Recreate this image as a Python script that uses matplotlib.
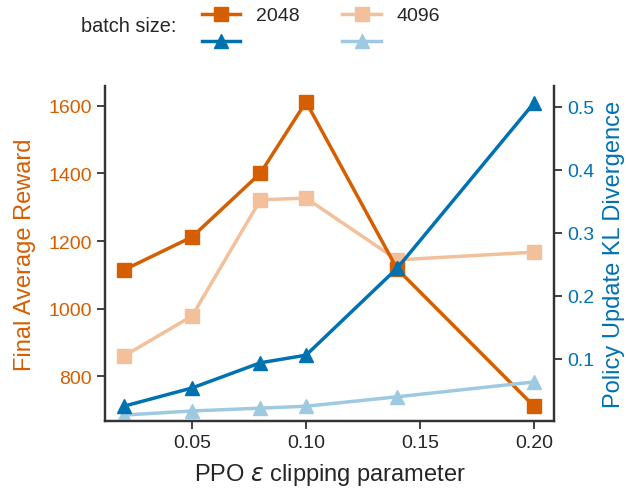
import matplotlib.pyplot as plt
from matplotlib.lines import Line2D

# clipping parameter values
epsilon = [0.02, 0.05, 0.08, 0.10, 0.14, 0.20]

# final average reward per batch size
reward_2048 = [1114, 1212, 1401, 1612, 1117, 711]
reward_4096 = [859, 978, 1322, 1327, 1144, 1167]

# policy update KL divergence per batch size
kl_2048 = [0.025, 0.054, 0.094, 0.106, 0.244, 0.506]
kl_4096 = [0.011, 0.0175, 0.022, 0.025, 0.040, 0.0635]

batch_labels = ["2048", "4096"]

orange = "#d55e00"
light_orange = "#f2c09b"
blue = "#0072b2"
light_blue = "#9ecae1"
spine_col = "#333333"

plt.rcParams["font.family"] = ["Liberation Sans", "DejaVu Sans"]
plt.rcParams["mathtext.fontset"] = "dejavusans"

fig = plt.figure(figsize=(6.26, 4.89), dpi=100)
ax = fig.add_axes([105 / 626, (489 - 422) / 489, (554 - 105) / 626, (422 - 87) / 489])
ax2 = ax.twinx()

ax.plot(epsilon, reward_2048, color=orange, lw=2.5, marker="s", ms=10, zorder=3)
ax.plot(epsilon, reward_4096, color=light_orange, lw=2.5, marker="s", ms=10, zorder=2)
ax2.plot(epsilon, kl_2048, color=blue, lw=2.5, marker="^", ms=10, zorder=3)
ax2.plot(epsilon, kl_4096, color=light_blue, lw=2.5, marker="^", ms=10, zorder=2)

ax.set_xlim(0.0118, 0.2088)
ax.set_ylim(667, 1659)
ax2.set_ylim(0.0016, 0.533)

ax.set_xticks([0.05, 0.10, 0.15, 0.20])
ax.set_xticklabels(["0.05", "0.10", "0.15", "0.20"])
ax.set_yticks([800, 1000, 1200, 1400, 1600])
ax2.set_yticks([0.1, 0.2, 0.3, 0.4, 0.5])

for a in (ax, ax2):
    a.spines["top"].set_visible(False)
    for s in ("left", "right", "bottom"):
        a.spines[s].set_color(spine_col)
        a.spines[s].set_linewidth(1.6)
    a.tick_params(length=6, width=1.3, color=spine_col, labelsize=14)

ax.tick_params(axis="y", labelcolor=orange)
ax.tick_params(axis="x", labelcolor="#262626")
ax2.tick_params(axis="y", labelcolor=blue)

ax.set_xlabel(r"PPO $\varepsilon$ clipping parameter", fontsize=17, color="#262626", labelpad=7)
ax.set_ylabel("Final Average Reward", fontsize=17, color=orange, labelpad=9)
ax2.set_ylabel("Policy Update KL Divergence", fontsize=17, color=blue, labelpad=6.5)

# legend above the axes
handles = [
    Line2D([], [], color=orange, lw=2.5, marker="s", ms=10),
    Line2D([], [], color=blue, lw=2.5, marker="^", ms=10),
    Line2D([], [], color=light_orange, lw=2.5, marker="s", ms=10),
    Line2D([], [], color=light_blue, lw=2.5, marker="^", ms=10),
]
labels = [batch_labels[0], "", batch_labels[1], ""]
fig.text(81 / 626, 1 - 27 / 489, "batch size:", fontsize=14.3, color="#262626", va="center")
fig.legend(handles, labels, ncol=2, frameon=False, fontsize=14,
           loc="upper left", bbox_to_anchor=(184 / 626, 1.02),
           handlelength=2.0, handletextpad=0.8, columnspacing=2.2,
           labelspacing=0.5, labelcolor="#262626")

fig.savefig("out.png", dpi=100)
